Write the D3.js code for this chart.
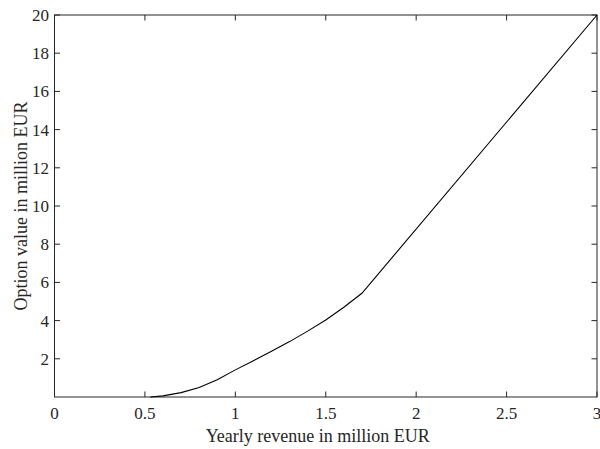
<!DOCTYPE html>
<html>
<head>
<meta charset="utf-8">
<script src="https://cdn.jsdelivr.net/npm/d3@7"></script>
<style>
  body { margin: 0; background: #fff; }
  svg text { font-family: "Liberation Serif", "DejaVu Serif", serif; fill: #262626; }
</style>
</head>
<body>
<svg id="chart" width="600" height="449"></svg>
<script>
// values
let revenue = [0.53, 0.6, 0.7, 0.8, 0.9, 1.0, 1.1, 1.2, 1.3, 1.4, 1.5, 1.6, 1.7, 3.0];
let optionValue = [0, 0.06, 0.23, 0.5, 0.9, 1.42, 1.9, 2.4, 2.9, 3.45, 4.03, 4.7, 5.43, 20];
let xTicks = [0, 0.5, 1, 1.5, 2, 2.5, 3];
let yTicks = [2, 4, 6, 8, 10, 12, 14, 16, 18, 20];

let svg = d3.select("#chart");
let plotLeft = 54.5, plotRight = 597, plotTop = 15, plotBottom = 397;
let tickLen = 5.5;

let x = d3.scaleLinear().domain([0, 3]).range([plotLeft, plotRight]);
let y = d3.scaleLinear().domain([0, 20]).range([plotBottom, plotTop]);

// box
svg.append("rect")
  .attr("x", plotLeft).attr("y", plotTop)
  .attr("width", plotRight - plotLeft).attr("height", plotBottom - plotTop)
  .attr("fill", "none").attr("stroke", "#262626").attr("stroke-width", 1);

// x ticks, bottom and top, pointing inward
let xt = svg.append("g");
xTicks.forEach(function(t) {
  xt.append("line").attr("x1", x(t)).attr("x2", x(t)).attr("y1", plotBottom).attr("y2", plotBottom - tickLen)
    .attr("stroke", "#262626");
  xt.append("line").attr("x1", x(t)).attr("x2", x(t)).attr("y1", plotTop).attr("y2", plotTop + tickLen)
    .attr("stroke", "#262626");
  xt.append("text").attr("x", x(t)).attr("y", 418.5).attr("text-anchor", "middle")
    .style("font-size", "17px").text(t);
});

// y ticks, left and right
let yt = svg.append("g");
yTicks.forEach(function(t) {
  yt.append("line").attr("x1", plotLeft).attr("x2", plotLeft + tickLen).attr("y1", y(t)).attr("y2", y(t))
    .attr("stroke", "#262626");
  yt.append("line").attr("x1", plotRight).attr("x2", plotRight - tickLen).attr("y1", y(t)).attr("y2", y(t))
    .attr("stroke", "#262626");
  yt.append("text").attr("x", 49).attr("y", y(t) + 6).attr("text-anchor", "end")
    .style("font-size", "17px").text(t);
});

// axis labels
svg.append("text").attr("x", (plotLeft + plotRight) / 2 - 8).attr("y", 442).attr("text-anchor", "middle")
  .style("font-size", "18px").text("Yearly revenue in million EUR");
svg.append("text").attr("transform", "translate(27," + ((plotTop + plotBottom) / 2) + ") rotate(-90)")
  .attr("text-anchor", "middle").style("font-size", "18px").text("Option value in million EUR");

// curve
let line = d3.line().x(function(d, i) { return x(revenue[i]); }).y(function(d) { return y(d); });
svg.append("path").datum(optionValue)
  .attr("d", line)
  .attr("fill", "none").attr("stroke", "#000").attr("stroke-width", 1.1);
</script>
</body>
</html>
